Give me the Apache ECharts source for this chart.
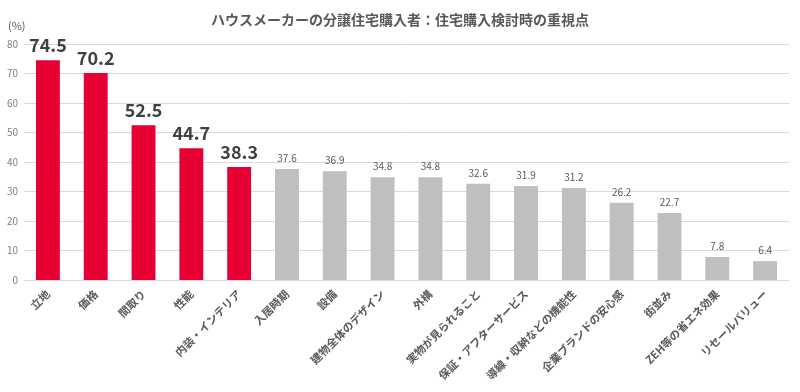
<!DOCTYPE html>
<html><head><meta charset="utf-8">
<script src="https://cdn.jsdelivr.net/npm/echarts@6/dist/echarts.min.js"></script>
<style>html,body{margin:0;padding:0;background:#fff}#c{width:800px;height:392px}</style>
</head><body><div id="c"></div>
<script>
const categories = ["立地","価格","間取り","性能","内装・インテリア","入居時期","設備","建物全体のデザイン","外構","実物が見られること","保証・アフターサービス","導線・収納などの機能性","企業ブランドの安心感","街並み","ZEH等の省エネ効果","リセールバリュー"];
const values = [74.5,70.2,52.5,44.7,38.3,37.6,36.9,34.8,34.8,32.6,31.9,31.2,26.2,22.7,7.8,6.4];
const highlightCount = 5;
const yTicks = [0,10,20,30,40,50,60,70,80];
const font = '"Noto Sans CJK JP","Noto Sans",sans-serif';
const data = values.map((v,i)=>{
  const hi = i < highlightCount;
  return {
    value: v,
    itemStyle: {color: hi ? '#e60033' : '#bfbfbf'},
    label: hi ? {fontSize: 18, fontWeight: 'bold', color: '#404040', distance: 6}
              : {fontSize: 10, color: '#595959', distance: 6}
  };
});
const chart = echarts.init(document.getElementById('c'));
chart.setOption({
  animation: false,
  textStyle: {fontFamily: font},
  title: {text: 'ハウスメーカーの分譲住宅購入者：住宅購入検討時の重視点', left: 'center', top: 8,
    textStyle: {fontSize: 14, fontWeight: 'bold', color: '#595959', fontFamily: font}},
  graphic: [{type: 'text', left: 8, top: 20, style: {text: '(%)', fontSize: 11, fill: '#595959', fontFamily: font}}],
  grid: {left: 24, right: 11, top: 44, bottom: 112},
  xAxis: {type: 'category', data: categories,
    axisLine: {lineStyle: {color: '#d9d9d9'}}, axisTick: {show: false},
    axisLabel: {rotate: 45, interval: 0, fontSize: 11, color: '#595959', fontWeight: 'bold', margin: 12, fontFamily: font}},
  yAxis: {type: 'value', min: yTicks[0], max: yTicks[yTicks.length-1], interval: 10,
    axisLabel: {fontSize: 10, color: '#7f7f7f', margin: 6},
    axisLine: {show: false}, axisTick: {show: false},
    splitLine: {lineStyle: {color: '#d9d9d9'}}},
  series: [{type: 'bar', data: data, barWidth: '50%',
    label: {show: true, position: 'top', fontFamily: font}}]
});
</script></body></html>
